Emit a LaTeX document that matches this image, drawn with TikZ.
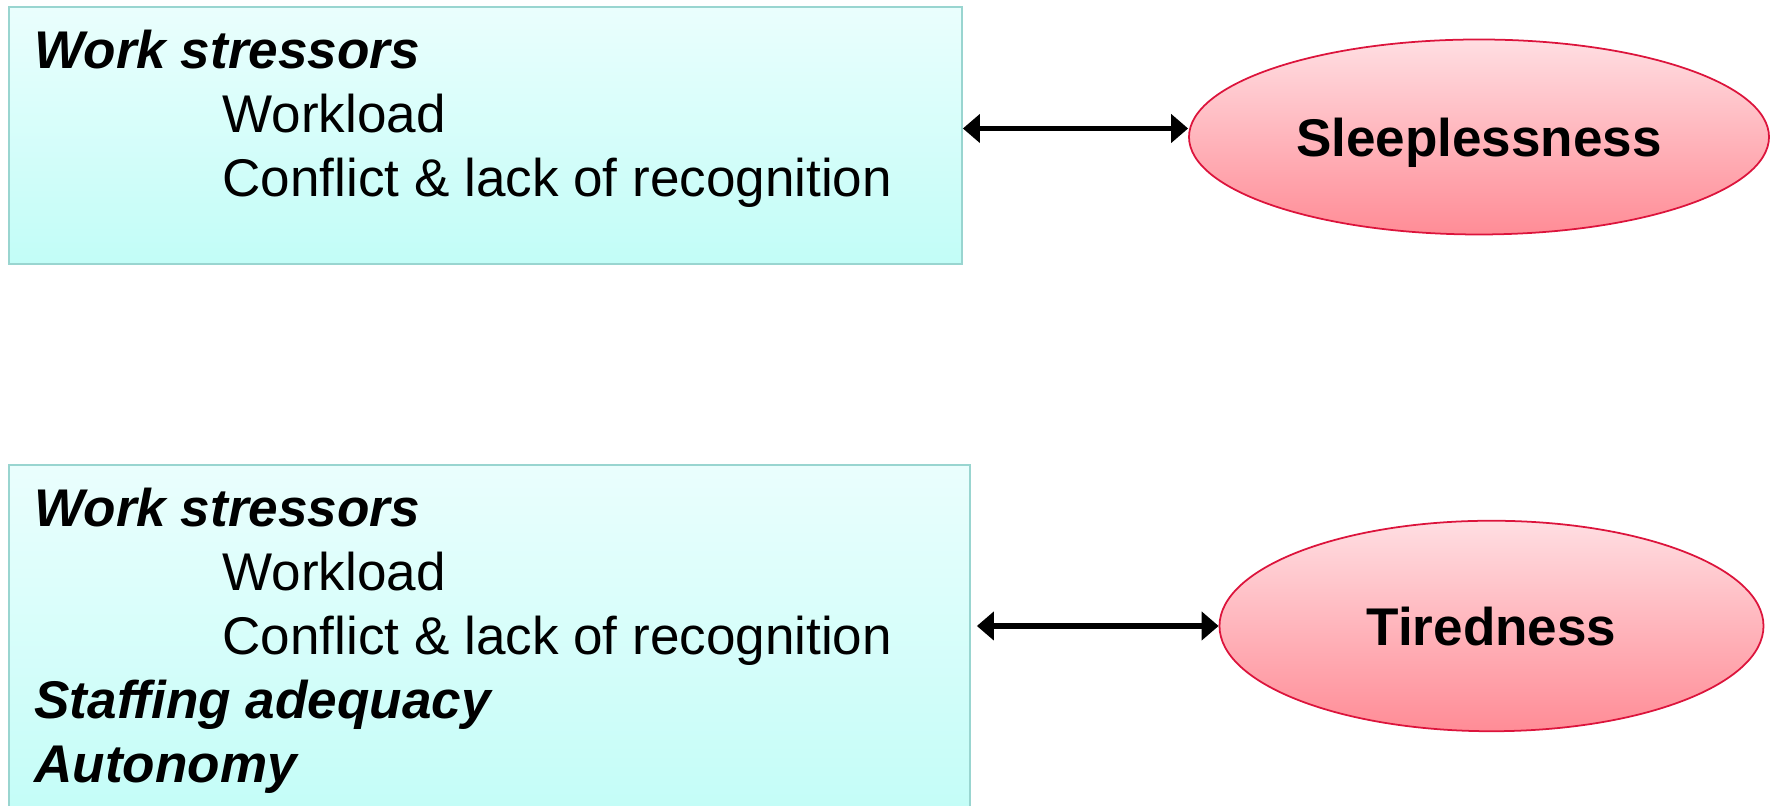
\documentclass[tikz,border=0pt]{standalone}
\usepackage{fontspec}
\setmainfont{Liberation Sans}
\usetikzlibrary{positioning,shapes.geometric,arrows.meta}

\definecolor{boxtop}{RGB}{234,254,253}
\definecolor{boxbottom}{RGB}{194,253,247}
\definecolor{boxline}{RGB}{153,213,208}
\definecolor{elltop}{RGB}{255,222,226}
\definecolor{ellbottom}{RGB}{255,140,150}
\definecolor{ellline}{RGB}{220,20,60}

\newcommand{\diagfont}{\fontsize{30.2}{36}\selectfont}

\begin{document}
\begin{tikzpicture}[
    factor/.style={rectangle, draw=boxline, line width=1pt, top color=boxtop, bottom color=boxbottom, inner sep=0pt},
    outcome/.style={ellipse, draw=ellline, line width=1pt, top color=elltop, bottom color=ellbottom, inner sep=0pt, text depth=0pt, font=\diagfont\bfseries},
    head/.style={anchor=base west, inner sep=0pt, font=\diagfont\bfseries\itshape},
    item/.style={anchor=base west, inner sep=0pt, font=\diagfont},
    link/.style={{Triangle[length=3.4mm,width=5.6mm]}-{Triangle[length=3.4mm,width=5.6mm]}, line width=3pt}]
    \useasboundingbox (0,0) rectangle (35.5,16.12);
    % Boxes
    \node[factor, minimum width=19.06cm, minimum height=5.14cm] (stress1) at (9.71,13.41) {};
    \node[factor, minimum width=19.22cm, minimum height=7.2cm] (stress2) at (9.79,3.22) {};
    % Outcomes
    \node[outcome, minimum width=11.6cm, minimum height=3.9cm] (sleep) at (29.58,13.38) {Sleeplessness};
    \node[outcome, minimum width=10.88cm, minimum height=4.21cm] (tired) at (29.83,3.60) {Tiredness};
    % Text of the upper box
    \node[head] (ws1) at ([xshift=5.2mm, yshift=-12.4mm]stress1.north west) {Work stressors};
    \node[item] (wl1) at ([xshift=3.76cm, yshift=-1.28cm]ws1.base west) {Workload};
    \node[item] (cf1) at ([yshift=-1.28cm]wl1.base west) {Conflict \& lack of recognition};
    % Text of the lower box
    \node[head] (ws2) at ([xshift=5.2mm, yshift=-12.4mm]stress2.north west) {Work stressors};
    \node[item] (wl2) at ([xshift=3.76cm, yshift=-1.28cm]ws2.base west) {Workload};
    \node[item] (cf2) at ([yshift=-1.28cm]wl2.base west) {Conflict \& lack of recognition};
    \node[head] (sa2) at ([yshift=-3.84cm]ws2.base west) {Staffing adequacy};
    \node[head] (au2) at ([yshift=-1.28cm]sa2.base west) {Autonomy};
    % Arrows
    \draw[link] ([yshift=1.4mm]stress1.east) -- ([yshift=1.4mm]stress1.east -| sleep.west);
    \draw[link] ([xshift=1.2mm]stress2.east |- tired.west) -- (tired.west);
\end{tikzpicture}
\end{document}
